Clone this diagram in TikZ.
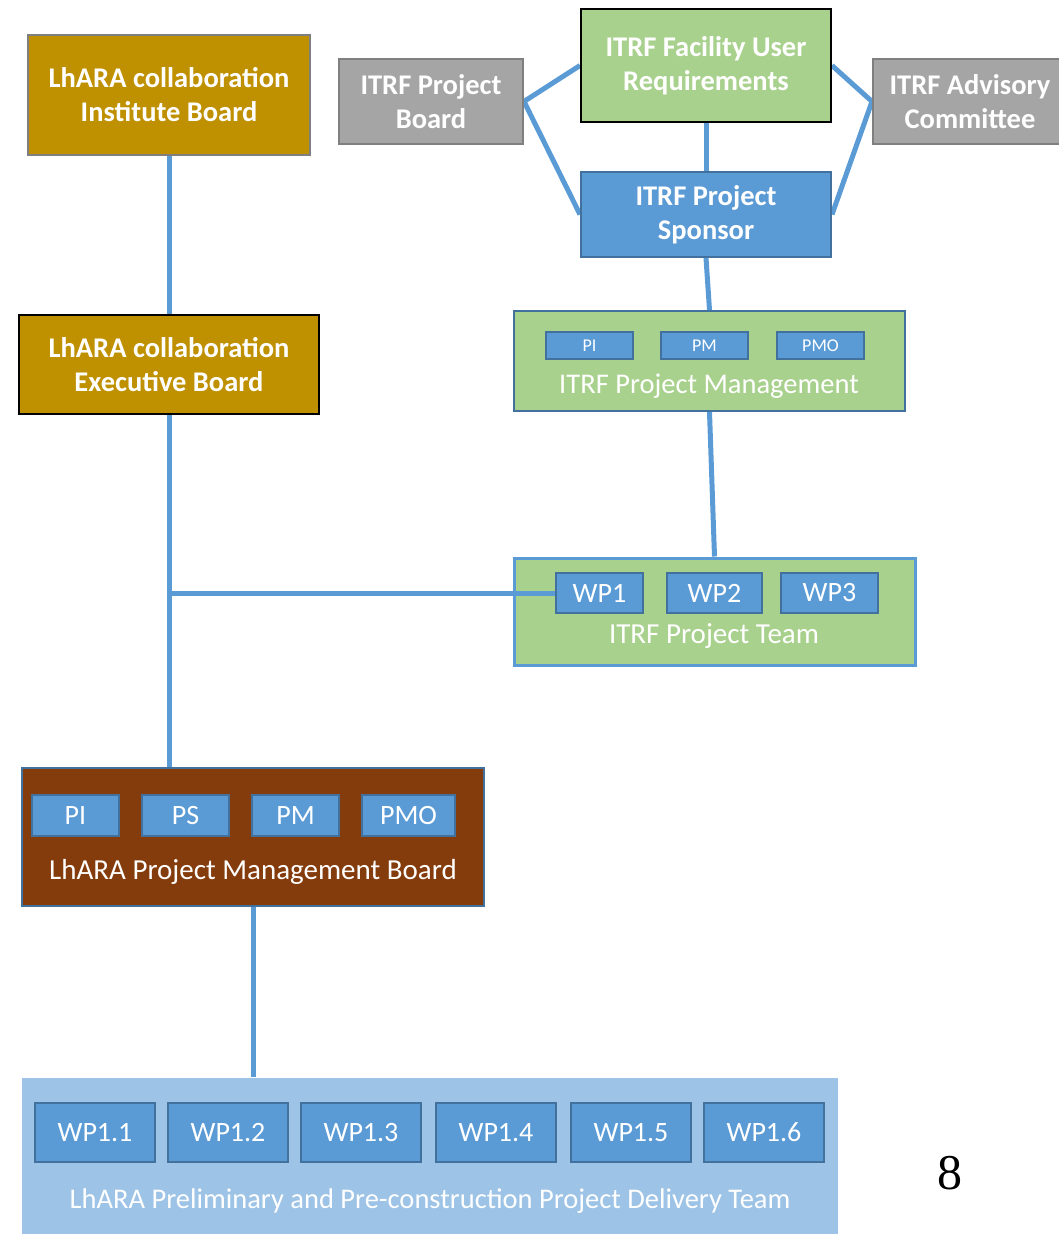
\documentclass[tikz,border=0pt]{standalone}
\usepackage{fontspec}
\setmainfont{Carlito}
\newfontfamily\pagefont{Liberation Serif}
\usetikzlibrary{backgrounds}
\definecolor{lharagold}{HTML}{BF9000}
\definecolor{lharabrown}{HTML}{843C0C}
\definecolor{itrfgray}{HTML}{A5A5A5}
\definecolor{edgegray}{HTML}{7F7F7F}
\definecolor{itrfgreen}{HTML}{A9D18E}
\definecolor{itrfblue}{HTML}{5B9BD5}
\definecolor{darkblue}{HTML}{41719C}
\definecolor{lightblue}{HTML}{9DC3E6}

\begin{document}
\begin{tikzpicture}[x=1pt,y=-1pt,
  board/.style={draw=edgegray,line width=2pt,inner sep=0pt,text=white,align=center,
    font=\fontsize{28.5}{34}\selectfont\bfseries},
  group/.style={line width=2pt,inner sep=0pt},
  role/.style={fill=itrfblue,draw=darkblue,line width=1.5pt,inner sep=0pt,text=white,
    font=\fontsize{28}{28}\selectfont},
  grouplabel/.style={text=white,inner sep=0pt,font=\fontsize{29}{29}\selectfont},
  link/.style={draw=itrfblue,line width=5pt}]
  \useasboundingbox (0,0) rectangle (1059,1234);

  % boards
  \node[board,fill=lharagold,minimum width=282,minimum height=120] (ib) at (169,95) {LhARA collaboration\\Institute Board};
  \node[board,fill=lharagold,draw=black,minimum width=300,minimum height=99] (eb) at (169,364.5) {LhARA collaboration\\Executive Board};
  \node[board,fill=itrfgray,minimum width=184,minimum height=85] (pb) at (431,101.5) {ITRF Project\\Board};
  \node[board,fill=itrfgreen,draw=black,minimum width=250,minimum height=113] (fur) at (706,65.5) {ITRF Facility User\\Requirements};
  \node[board,fill=itrfgray,minimum width=194,minimum height=85] (ac) at (970,101.5) {ITRF Advisory\\Committee};
  \node[board,fill=itrfblue,draw=darkblue,minimum width=250,minimum height=85] (ps) at (706,214.5) {ITRF Project\\Sponsor};

  % ITRF project management
  \node[group,fill=itrfgreen,draw=darkblue,minimum width=391,minimum height=100] (ipm) at (709.5,361) {};
  \foreach \name/\x/\txt in {ipmpi/589.5/PI,ipmpm/704.5/PM,ipmpmo/820.5/PMO}
    \node[role,minimum width=87,minimum height=27,font=\fontsize{18}{18}\selectfont] (\name) at (\x,345.5) {\txt};
  \node[grouplabel,font=\fontsize{28.5}{28.5}\selectfont] (ipmlabel) at (709,386) {ITRF Project Management};

  % ITRF project team
  \node[group,fill=itrfgreen,draw=itrfblue,line width=3pt,minimum width=401,minimum height=107] (ipt) at (714.5,611.5) {};
  \foreach \name/\x/\w/\txt in {itrfwp1/599.5/87/WP1,itrfwp2/714.5/95/WP2,itrfwp3/829.5/97/WP3}
    \node[role,minimum width=\w,minimum height=40] (\name) at (\x,593) {\txt};
  \node[grouplabel] (iptlabel) at (714,636) {ITRF Project Team};

  % LhARA project management board
  \node[group,fill=lharabrown,draw=darkblue,minimum width=462,minimum height=138] (pmb) at (253,837) {};
  \foreach \name/\x/\w/\txt in {pmbpi/75.5/87/PI,pmbps/185.5/87/PS,pmbpm/295.5/87/PM,pmbpmo/408.5/93/PMO}
    \node[role,minimum width=\w,minimum height=41] (\name) at (\x,815.5) {\txt};
  \node[grouplabel] (pmblabel) at (253,872) {LhARA Project Management Board};

  % delivery team
  \node[group,fill=lightblue,draw=none,minimum width=816,minimum height=156] (dt) at (430,1156) {};
  \foreach \n/\x in {1/95,2/228,3/361,4/496,5/631,6/764}
    \node[role,minimum width=120,minimum height=59] (dtwp\n) at (\x,1132.5) {WP1.\n};
  \node[grouplabel,font=\fontsize{28.5}{28.5}\selectfont] (dtlabel) at (430,1201) {LhARA Preliminary and Pre-construction Project Delivery Team};

  \node[inner sep=0pt,font=\pagefont\fontsize{50}{50}\selectfont] (pagenum) at (950,1173) {8};

  % connectors
  \begin{scope}[on background layer]
    \draw[link] (fur.west) -- (pb.east) -- (ps.west);
    \draw[link] (fur.east) -- (ac.west) -- (ps.east);
  \end{scope}
  \draw[link] (ib) -- (eb);
  \draw[link] (fur) -- (ps);
  \draw[link] (ps.south) -- (ipm.north);
  \draw[link] (ipm.south) -- (ipt.north);
  \draw[link] (eb.south) -- (eb.south |- pmb.north);
  \coordinate (tee) at (eb.south |- itrfwp1.west);
  \draw[link] (tee) -- (itrfwp1.west);
  \draw[link] (pmb.south) -- (pmb.south |- dt.north);
\end{tikzpicture}
\end{document}
